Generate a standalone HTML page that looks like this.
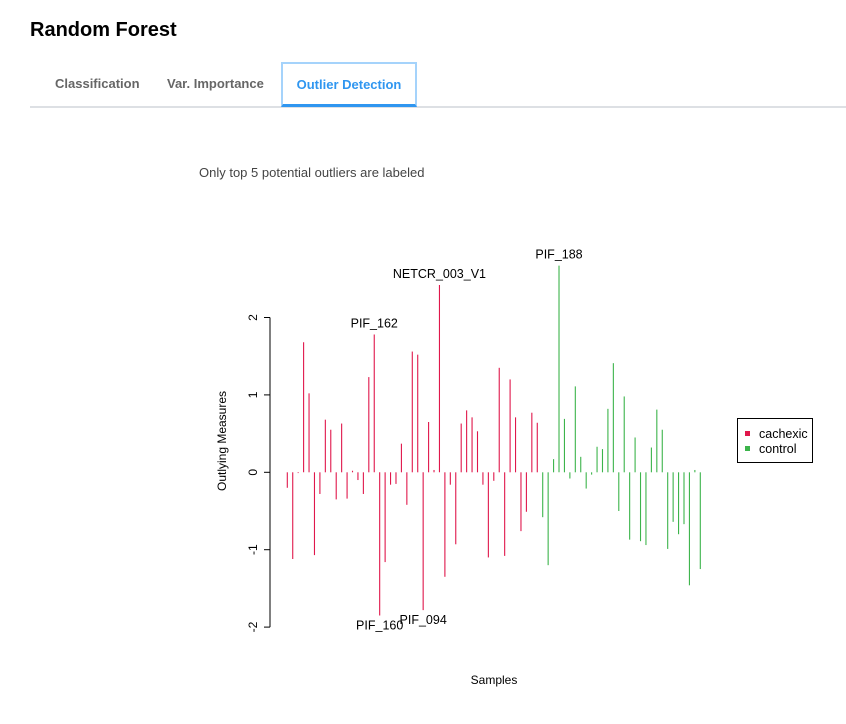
<!DOCTYPE html>
<html><head><meta charset="utf-8">
<style>
body{margin:0;width:846px;height:724px;background:#fff;font-family:"Liberation Sans",sans-serif;position:relative;overflow:hidden}
.title{position:absolute;left:30px;top:19px;font-size:20px;font-weight:bold;color:#000;font-family:"Liberation Sans",sans-serif}
.tab{position:absolute;top:62px;height:44px;line-height:44px;font-size:13px;font-weight:bold;color:#666;font-family:"Liberation Sans",sans-serif}
.tabline{position:absolute;left:30px;top:106px;width:816px;height:2px;background:#dde0e4}
.active{left:281px;width:132px;border:2px solid #a5d3fb;border-bottom:3px solid #2f96f0;color:#2f96f0;text-align:center;top:62px;height:40px;line-height:42px}
.note{position:absolute;left:199px;top:165px;font-size:13px;color:#444;font-family:"Liberation Sans",sans-serif}
</style></head><body>
<div class="title">Random Forest</div>
<div class="tab" style="left:55px">Classification</div>
<div class="tab" style="left:167px">Var. Importance</div>
<div class="tabline"></div>
<div class="tab active">Outlier Detection</div>
<div class="note">Only top 5 potential outliers are labeled</div>
<svg id="chart" width="846" height="724" style="position:absolute;left:0;top:0"></svg>
<script>
const values=[-0.20,-1.12,-0.01,1.68,1.02,-1.07,-0.28,0.68,0.55,-0.35,0.63,-0.34,0.02,-0.10,-0.28,1.23,1.78,-1.85,-1.16,-0.16,-0.15,0.37,-0.42,1.56,1.52,-1.78,0.65,0.03,2.42,-1.35,-0.16,-0.93,0.63,0.80,0.71,0.53,-0.16,-1.10,-0.11,1.35,-1.08,1.20,0.71,-0.76,-0.51,0.77,0.64,
-0.58,-1.20,0.17,2.67,0.69,-0.08,1.11,0.20,-0.21,-0.03,0.33,0.30,0.82,1.41,-0.50,0.98,-0.87,0.45,-0.89,-0.94,0.32,0.81,0.55,-0.99,-0.64,-0.80,-0.67,-1.46,0.03,-1.25];
const groups=values.map((v,i)=>i<47?"cachexic":"control");
const labels={16:"PIF_162",17:"PIF_160",25:"PIF_094",28:"NETCR_003_V1",50:"PIF_188"};
const yTicks=[-2,-1,0,1,2];
const colors={cachexic:"#e0174b",control:"#3cb44b"};
const svg=document.getElementById('chart');
const NS="http://www.w3.org/2000/svg";
const y0=472.3,ppu=77.4;
const yS=v=>y0-v*ppu;
const xS=i=>287.3+i*(413/(values.length-1));
function mk(t,a){const e=document.createElementNS(NS,t);for(const k in a)e.setAttribute(k,a[k]);svg.appendChild(e);return e;}
let ax=mk('line',{x1:270,x2:270,y1:yS(2),y2:yS(-2),stroke:'#000'});


yTicks.forEach(t=>{
 const tk=mk('line',{x1:264,x2:270,y1:yS(t),y2:yS(t),stroke:'#000'});
 
 
 const tl=mk('text',{x:0,y:0,'font-size':12,'text-anchor':'middle',transform:`translate(257,${yS(t)}) rotate(-90)`,'font-family':'Liberation Sans'});
 tl.textContent=t;
 
 
});
values.forEach((v,i)=>{
 const b=mk('line',{x1:xS(i),x2:xS(i),y1:yS(0),y2:yS(v),stroke:colors[groups[i]],'stroke-width':1.1});
 
 
 if(labels[i]){
  const l=mk('text',{x:xS(i),y:v>0?yS(v)-7:yS(v)+14,'font-size':12.5,'text-anchor':'middle','font-family':'Liberation Sans'});
  l.textContent=labels[i];
  
  
 }
});
const yt=mk('text',{x:0,y:0,'font-size':12,'text-anchor':'middle',transform:'translate(226,441) rotate(-90)','font-family':'Liberation Sans'});
yt.textContent='Outlying Measures';


const xt=mk('text',{x:494,y:684,'font-size':12,'text-anchor':'middle','font-family':'Liberation Sans'});
xt.textContent='Samples';


const lg=mk('rect',{x:737.5,y:418.5,width:75,height:44,fill:'#fff',stroke:'#000'});


[["cachexic",434],["control",449]].forEach(([g,y])=>{
 const s=mk('rect',{x:745,y:y-3,width:5,height:5,fill:colors[g]});
 
 
 const t=mk('text',{x:759,y:y+4,'font-size':12.5,'font-family':'Liberation Sans'});
 t.textContent=g;
 
 
});
</script>
</body></html>
